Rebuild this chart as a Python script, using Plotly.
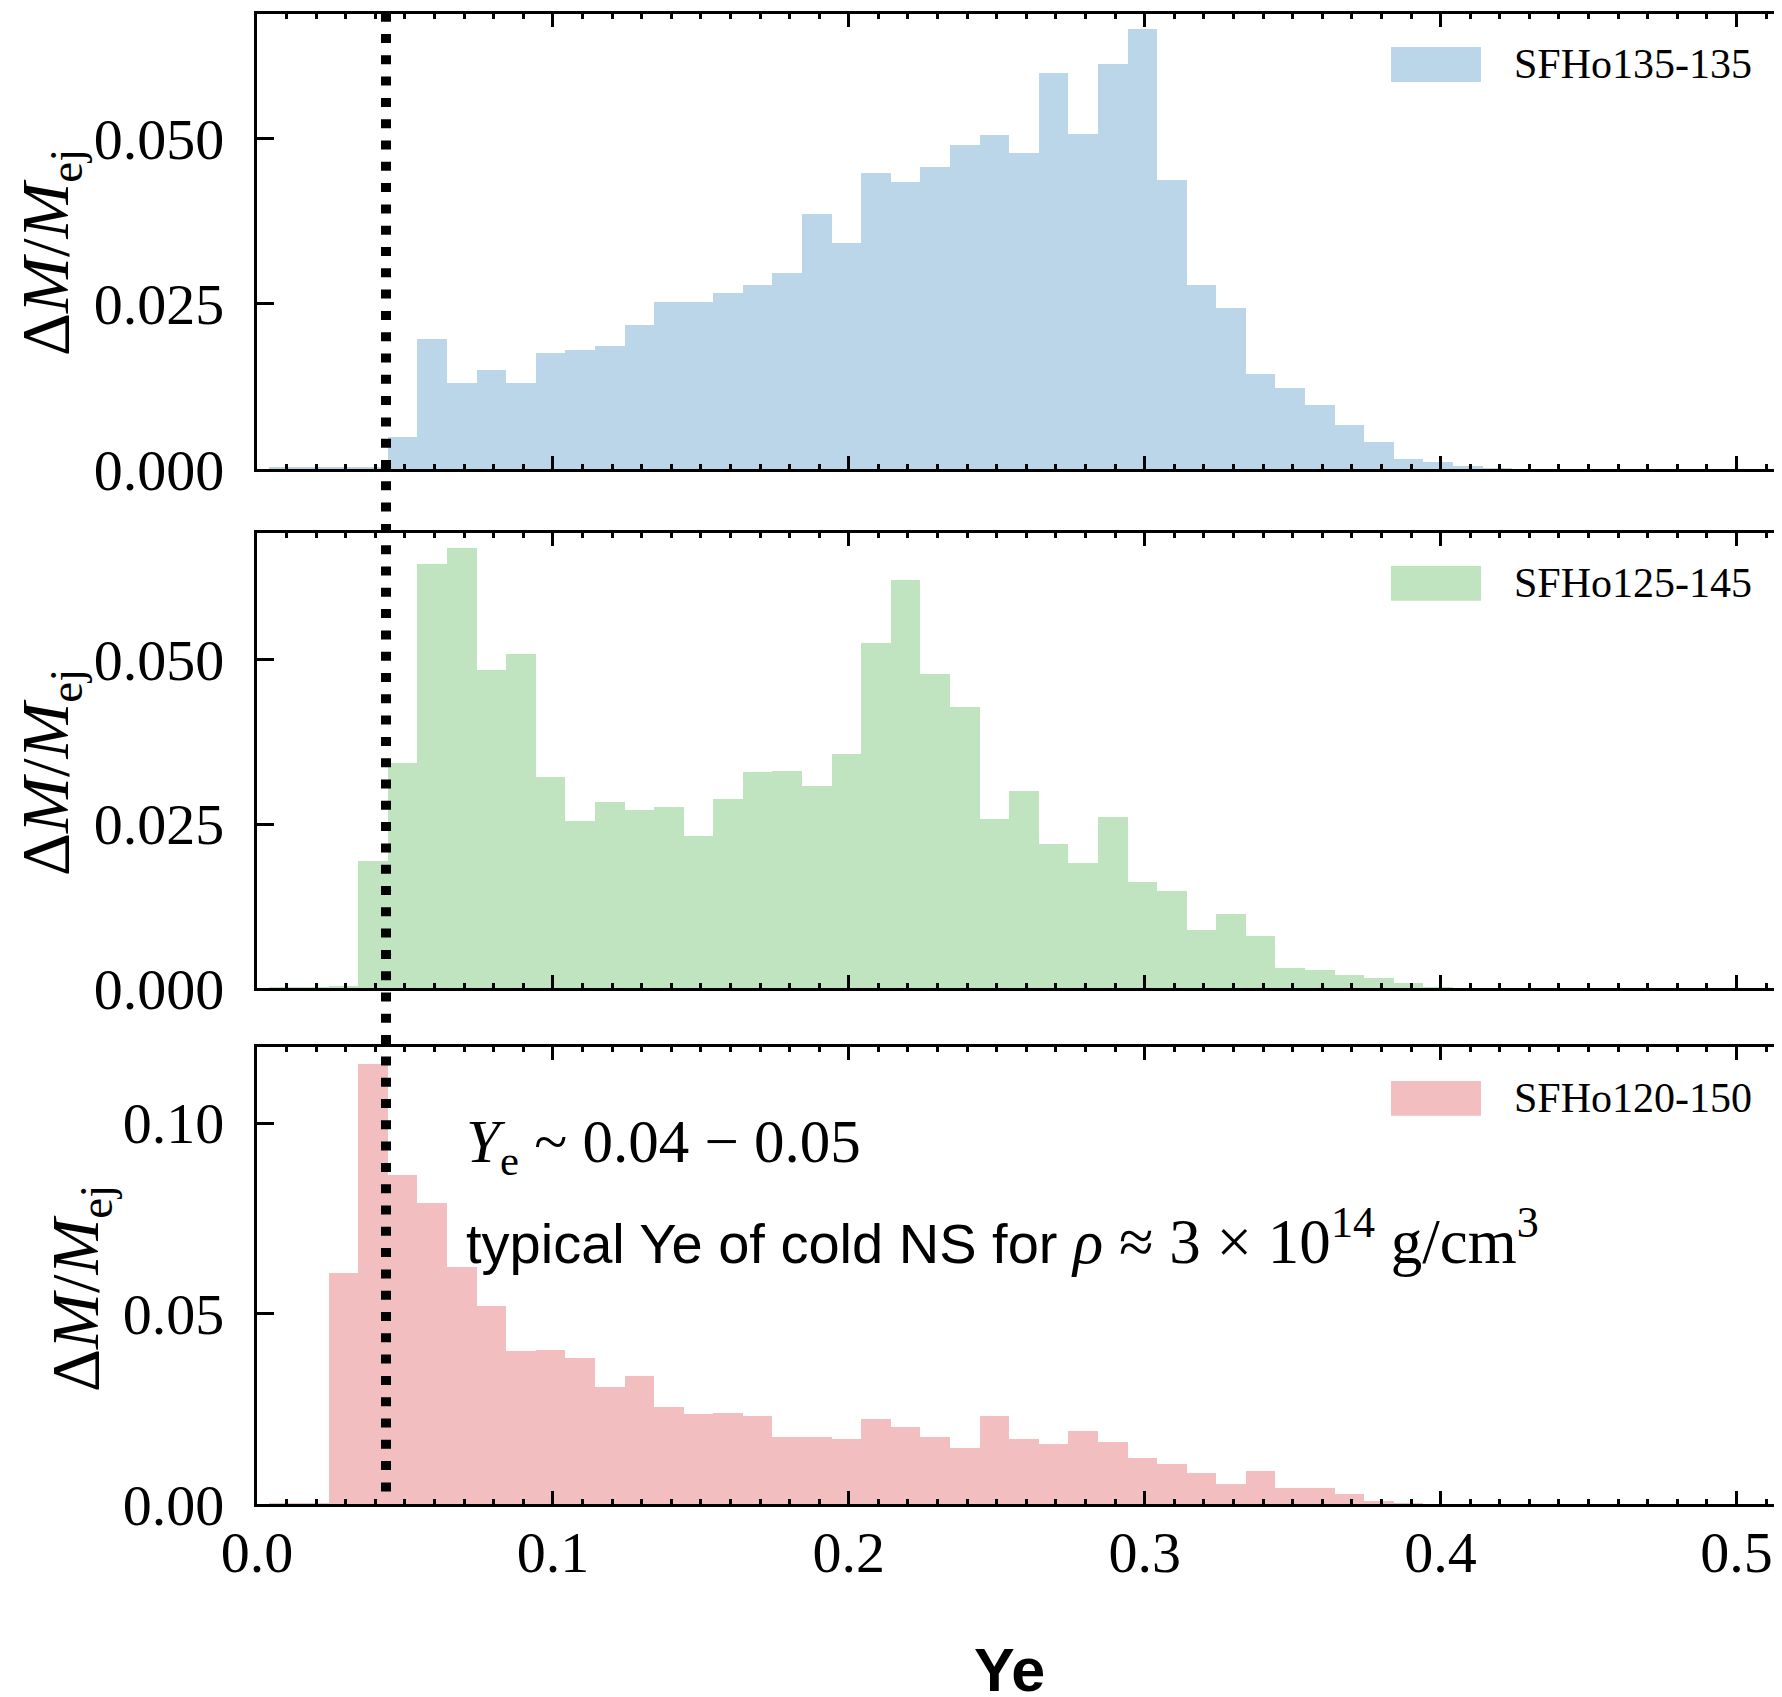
import plotly.graph_objects as go

# ---------------- data ----------------
bin_left = [0.0042, 0.0142, 0.0242, 0.0342, 0.0442, 0.0542, 0.0642, 0.0742, 0.0842, 0.0942,
            0.1042, 0.1142, 0.1242, 0.1342, 0.1442, 0.1542, 0.1642, 0.1742, 0.1842, 0.1942,
            0.2042, 0.2142, 0.2242, 0.2342, 0.2442, 0.2542, 0.2642, 0.2742, 0.2842, 0.2942,
            0.3042, 0.3142, 0.3242, 0.3342, 0.3442, 0.3542, 0.3642, 0.3742, 0.3842, 0.3942,
            0.4042, 0.4142]
bin_width = 0.01

sfho135_135 = [0.0003, 0.0003, 0.0003, 0.0003, 0.0048, 0.0197, 0.0130, 0.0149, 0.0130, 0.0175,
               0.0180, 0.0186, 0.0217, 0.0252, 0.0253, 0.0266, 0.0278, 0.0297, 0.0386, 0.0341,
               0.0447, 0.0434, 0.0456, 0.0489, 0.0504, 0.0477, 0.0599, 0.0506, 0.0612, 0.0665,
               0.0437, 0.0278, 0.0243, 0.0143, 0.0122, 0.0097, 0.0066, 0.0041, 0.0015, 0.0011,
               0.0005, 0.0002]
sfho125_145 = [0.0002, 0.0002, 0.0004, 0.0194, 0.0344, 0.0646, 0.0670, 0.0485, 0.0510, 0.0322,
               0.0256, 0.0284, 0.0272, 0.0277, 0.0233, 0.0289, 0.0330, 0.0332, 0.0308, 0.0358,
               0.0526, 0.0622, 0.0479, 0.0429, 0.0259, 0.0301, 0.0220, 0.0192, 0.0261, 0.0162,
               0.0149, 0.0090, 0.0114, 0.0080, 0.0031, 0.0028, 0.0021, 0.0017, 0.0009, 0.0002,
               0.0001, 0.0000]
sfho120_150 = [0.0003, 0.0003, 0.0609, 0.1155, 0.0864, 0.0792, 0.0623, 0.0520, 0.0404, 0.0405,
               0.0384, 0.0310, 0.0339, 0.0256, 0.0238, 0.0242, 0.0233, 0.0177, 0.0179, 0.0172,
               0.0225, 0.0203, 0.0179, 0.0149, 0.0232, 0.0173, 0.0159, 0.0193, 0.0164, 0.0122,
               0.0107, 0.0084, 0.0054, 0.0088, 0.0045, 0.0044, 0.0028, 0.0010, 0.0006, 0.0002,
               0.0002, 0.0001]

series_names = ["SFHo135-135", "SFHo125-145", "SFHo120-150"]
series_values = [sfho135_135, sfho125_145, sfho120_150]
series_colors = ["rgb(188,214,233)", "rgb(192,227,192)", "rgb(243,190,191)"]

ye_cold = 0.0436

x_tickvals = [0.0, 0.1, 0.2, 0.3, 0.4, 0.5]
x_ticktext = ["0.0", "0.1", "0.2", "0.3", "0.4", "0.5"]
y_tickvals = [[0, 0.025, 0.05], [0, 0.025, 0.05], [0, 0.05, 0.10]]
y_ticktext = [["0.000", "0.025", "0.050"], ["0.000", "0.025", "0.050"], ["0.00", "0.05", "0.10"]]
y_max = [0.06875, 0.06935, 0.12003]

# ---------------- layout helpers ----------------
OFF = 8                    # page body margin of the browser
WIN_W, WIN_H = 1782, 1697
W, H = WIN_W - OFF, WIN_H - OFF
L = 257 - OFF
PX_PER_UNIT = 2959.0


def fx(px):
    return (px - OFF - L) / (W - L)


def fy(py):
    return 1 - (py - OFF) / H


panel_px = [(14.3, 469.4), (532.6, 988.4), (1046.6, 1504.4)]
legend_px = [(47, 82), (566, 600.7), (1081, 1115.7)]
ylabel_px = [(50, 253), (50, 773), (80, 1289)]

SERIF = "Liberation Serif"
SANS = "Liberation Sans"

centers = [b + bin_width / 2 for b in bin_left]

fig = go.Figure()
layout = dict(
    width=W, height=H,
    margin=dict(l=L, r=0, t=0, b=0, pad=0, autoexpand=False),
    paper_bgcolor="white", plot_bgcolor="white",
    bargap=0, showlegend=False,
    shapes=[], annotations=[],
)

for i in range(3):
    sfx = "" if i == 0 else str(i + 1)
    fig.add_trace(go.Bar(
        x=centers, y=series_values[i], width=bin_width,
        marker=dict(color=series_colors[i], line=dict(width=0)),
        xaxis="x" + sfx, yaxis="y" + sfx, hoverinfo="skip", showlegend=False,
    ))
    top, bot = panel_px[i]
    layout["xaxis" + sfx] = dict(
        domain=[0, 1], anchor="y" + sfx, range=[0, (W - L) / PX_PER_UNIT],
        showline=True, linewidth=3.3, linecolor="black", mirror="ticks",
        ticks="inside", ticklen=13, tickwidth=3, tickcolor="black",
        tickvals=x_tickvals, ticktext=x_ticktext,
        minor=dict(dtick=0.01, tick0=0, ticks="inside", ticklen=5, tickwidth=2.5,
                   tickcolor="black", showgrid=False),
        showgrid=False, zeroline=False, showticklabels=(i == 2),
        tickfont=dict(family=SERIF, size=58, color="black"),
        ticklabelstandoff=-5,
    )
    layout["yaxis" + sfx] = dict(
        domain=[fy(bot), fy(top)], anchor="x" + sfx, range=[0, y_max[i]],
        showline=True, linewidth=3.3, linecolor="black", mirror=False,
        ticks="inside", ticklen=17, tickwidth=3, tickcolor="black",
        tickvals=y_tickvals[i], ticktext=y_ticktext[i],
        showgrid=False, zeroline=False,
        tickfont=dict(family=SERIF, size=58, color="black"),
        ticklabelstandoff=18,
    )
    # right-side tick stubs (right spine lies beyond the cropped edge)
    rsfx = str(i + 4)
    fig.add_trace(go.Scatter(x=[0.3], y=[0.01], mode="markers", marker=dict(opacity=0),
                             xaxis="x" + sfx, yaxis="y" + rsfx, hoverinfo="skip",
                             showlegend=False))
    layout["yaxis" + rsfx] = dict(
        overlaying="y" + sfx, side="right", anchor="x" + sfx, range=[0, y_max[i]],
        showline=False, ticks="inside", ticklen=6, tickwidth=3, tickcolor="black",
        tickvals=y_tickvals[i], showticklabels=False, showgrid=False, zeroline=False,
    )
    # legend patch + text
    lt, lb = legend_px[i]
    layout["shapes"].append(dict(
        type="rect", xref="paper", yref="paper", x0=fx(1391), x1=fx(1481),
        y0=fy(lb), y1=fy(lt), fillcolor=series_colors[i], line=dict(width=0), layer="above",
    ))
    layout["annotations"].append(dict(
        text=series_names[i], xref="paper", yref="paper", x=fx(1512), y=fy((lt + lb) / 2),
        xanchor="left", yanchor="middle", showarrow=False,
        font=dict(family=SERIF, size=42, color="black"),
    ))
    # y-axis label
    lx, ly = ylabel_px[i]
    layout["annotations"].append(dict(
        text="Δ<i>M</i>/<i>M</i><sub>ej</sub>", xref="paper", yref="paper",
        x=fx(lx), y=fy(ly), xanchor="center", yanchor="middle", textangle=-90,
        showarrow=False, font=dict(family=SERIF, size=67, color="black"),
    ))

# dotted vertical line across all panels
layout["shapes"].append(dict(
    type="line", xref="x", yref="paper", x0=ye_cold, x1=ye_cold, y0=fy(12.7), y1=fy(1492),
    line=dict(color="black", width=10, dash="9px,12.3px"), layer="above",
))

# text annotations in bottom panel
layout["annotations"].append(dict(
    text="<i>Y</i><sub>e</sub> ~ 0.04 − 0.05", xref="paper", yref="paper",
    x=fx(464), y=fy(1146), xanchor="left", yanchor="middle", showarrow=False,
    font=dict(family=SERIF, size=61, color="black"),
))
layout["annotations"].append(dict(
    text="typical Ye of cold NS for <span style='font-family:Liberation Serif;font-size:63px'>"
         "<i>ρ</i> ≈ 3 × 10<sup>14</sup> g/cm<sup>3</sup></span>",
    xref="paper", yref="paper",
    x=fx(464), y=fy(1237), xanchor="left", yanchor="middle", showarrow=False,
    font=dict(family=SANS, size=56, color="black"),
))
# x-axis title
layout["annotations"].append(dict(
    text="<b>Ye</b>", xref="paper", yref="paper", x=fx(1009), y=fy(1670),
    xanchor="center", yanchor="middle", showarrow=False,
    font=dict(family=SANS, size=61, color="black"),
))

fig.update_layout(**layout)
fig.write_html("out.html")
